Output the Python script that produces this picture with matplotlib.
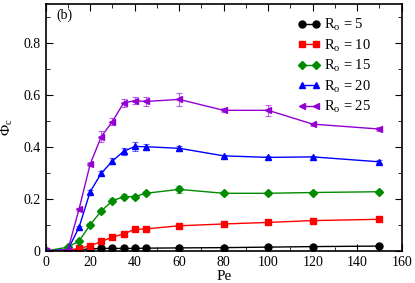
import matplotlib
matplotlib.use("Agg")
import matplotlib.pyplot as plt
from matplotlib.ticker import MultipleLocator

plt.rcParams['font.family'] = 'Liberation Serif'
plt.rcParams['mathtext.fontset'] = 'custom'
plt.rcParams['mathtext.rm'] = 'Liberation Serif'
plt.rcParams['mathtext.it'] = 'Liberation Serif'
plt.rcParams['font.size'] = 10

pe = [0, 10, 15, 20, 25, 30, 35, 40, 45, 60, 80, 100, 120, 150]

phi_r5 = [0.0, 0.003, 0.005, 0.008, 0.01, 0.01, 0.01, 0.01, 0.011, 0.012, 0.013, 0.015, 0.017, 0.019]
err_r5 = [0.002] * 14
phi_r10 = [0.0, 0.003, 0.01, 0.02, 0.037, 0.053, 0.066, 0.083, 0.085, 0.097, 0.104, 0.11, 0.117, 0.122]
err_r10 = [0.002, 0.002, 0.003, 0.004, 0.005, 0.005, 0.005, 0.005, 0.005, 0.006, 0.004, 0.004, 0.004, 0.004]
phi_r15 = [0.0, 0.015, 0.038, 0.101, 0.154, 0.193, 0.209, 0.209, 0.222, 0.237, 0.222, 0.222, 0.225, 0.228]
err_r15 = [0.002, 0.003, 0.004, 0.006, 0.008, 0.01, 0.01, 0.008, 0.007, 0.012, 0.005, 0.005, 0.005, 0.005]
phi_r20 = [0.0, 0.005, 0.091, 0.228, 0.299, 0.346, 0.383, 0.402, 0.401, 0.395, 0.366, 0.36, 0.362, 0.343]
err_r20 = [0.002, 0.003, 0.005, 0.006, 0.008, 0.01, 0.014, 0.018, 0.012, 0.01, 0.005, 0.005, 0.005, 0.006]
phi_r25 = [0.0, 0.005, 0.161, 0.334, 0.44, 0.498, 0.569, 0.578, 0.575, 0.583, 0.541, 0.541, 0.488, 0.469]
err_r25 = [0.002, 0.003, 0.006, 0.008, 0.02, 0.015, 0.016, 0.013, 0.016, 0.025, 0.008, 0.02, 0.006, 0.008]

series = [
    (phi_r5, err_r5, 'black', 'o', r'R$_\mathrm{o}$ = 5'),
    (phi_r10, err_r10, '#ff0000', 's', r'R$_\mathrm{o}$ = 10'),
    (phi_r15, err_r15, '#008b00', 'D', r'R$_\mathrm{o}$ = 15'),
    (phi_r20, err_r20, '#0000ff', '^', r'R$_\mathrm{o}$ = 20'),
    (phi_r25, err_r25, '#9400d3', '<', r'R$_\mathrm{o}$ = 25'),
]

fig = plt.figure(figsize=(4.15, 2.83), dpi=100)
ax = fig.add_axes([0.110, 0.113, 0.858, 0.873])

for phi, err, col, mk, lab in series:
    ms = 4.5 if mk == 'D' else 5
    ax.errorbar(pe, phi, yerr=err, fmt='none', ecolor=col, elinewidth=0.8,
                capsize=2.5, capthick=0.8, alpha=0.6)
    ax.plot(pe, phi, color=col, marker=mk, markersize=ms, lw=1, label=lab)

ax.set_xlim(0, 160)
ax.set_ylim(0, 0.95)
ax.xaxis.set_major_locator(MultipleLocator(20))
ax.xaxis.set_minor_locator(MultipleLocator(10))
ax.yaxis.set_minor_locator(MultipleLocator(0.1))
ax.set_yticks([0, 0.2, 0.4, 0.6, 0.8])
ax.set_yticklabels(['0', '0.2', '0.4', '0.6', '0.8'])
ax.tick_params(which='both', direction='in', top=True, right=True, labelsize=10)
ax.tick_params(which='major', length=5)
ax.tick_params(which='minor', length=3)
for s in ax.spines.values():
    s.set_linewidth(1.2)

ax.set_xlabel('Pe', fontsize=11, labelpad=1)
ax.set_ylabel(r'$\Phi_\mathrm{c}$', fontsize=11, labelpad=6)
ax.text(0.03, 0.94, '(b)', transform=ax.transAxes, fontsize=10)

leg = ax.legend(loc='upper left', frameon=False, numpoints=2, handlelength=1.5,
                handletextpad=0.25, labelspacing=0.3, fontsize=10.5,
                bbox_to_anchor=(0.672, 1.0))

fig.savefig('out.png', dpi=100)
